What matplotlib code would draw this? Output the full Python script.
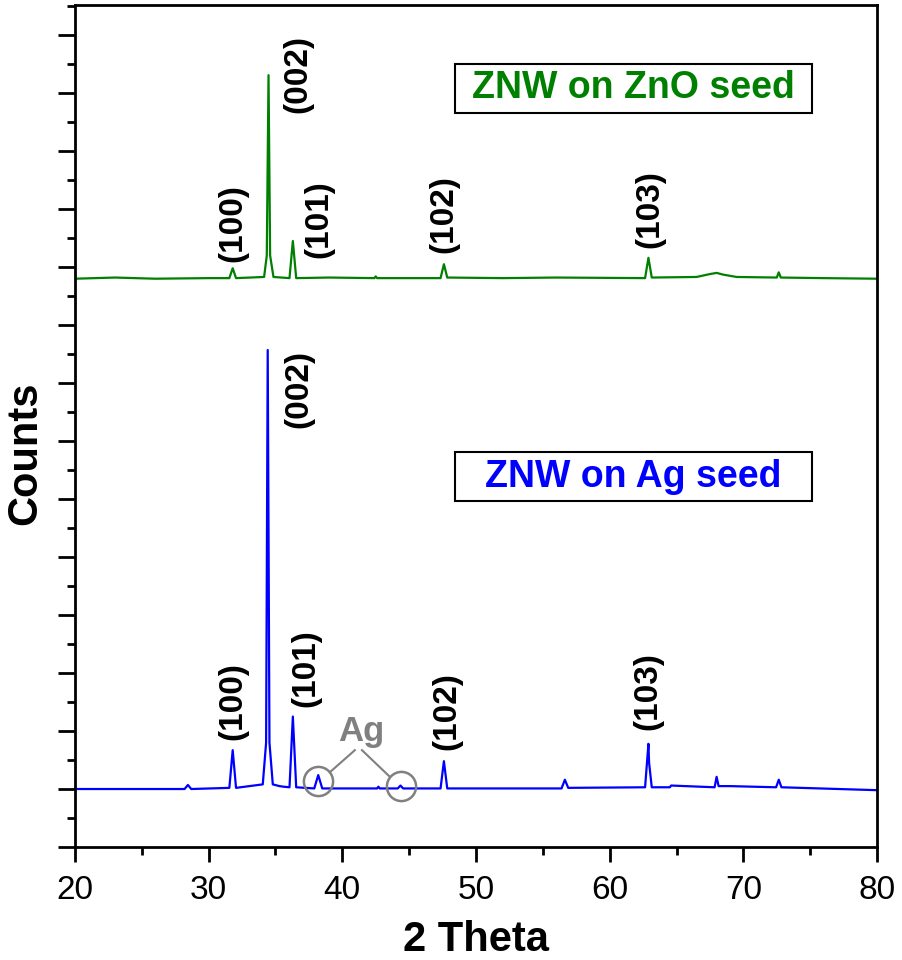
import numpy as np
import matplotlib
matplotlib.use("Agg")
import matplotlib.pyplot as plt
from matplotlib.patches import Rectangle
from matplotlib.ticker import MultipleLocator

plt.rcParams['font.family'] = ['Liberation Sans', 'DejaVu Sans']

# XRD traces (y in units of one major tick)
green_x = [20, 23, 26, 30, 31.55, 31.8, 32.05, 34.15, 34.35, 34.48, 34.6, 34.85,
           36.05, 36.3, 36.55, 39.0, 42.4, 42.5, 42.6, 47.35, 47.6, 47.85, 52, 56,
           62.65, 62.9, 63.15, 66.5, 67.5, 68.0, 68.5, 69.5, 72.5, 72.65, 72.8, 76, 80]
green_y = [9.8, 9.82, 9.8, 9.81, 9.81, 9.98, 9.81, 9.83, 10.2, 13.31, 10.2, 9.83,
           9.81, 10.45, 9.81, 9.82, 9.81, 9.84, 9.81, 9.81, 10.05, 9.82, 9.81, 9.82,
           9.81, 10.16, 9.82, 9.83, 9.88, 9.9, 9.87, 9.83, 9.82, 9.91, 9.82, 9.81, 9.8]

blue_x = [20, 24, 28.2, 28.45, 28.7, 31.55, 31.8, 32.05,
          34.05, 34.3, 34.42, 34.55, 34.8, 35.3, 35.6,
          36.05, 36.3, 36.55, 37.9, 38.2, 38.5, 42.6, 42.7, 42.8,
          44.15, 44.35, 44.55, 47.35, 47.6, 47.85, 56.4, 56.65, 56.9,
          62.65, 62.9, 62.95, 63.15, 64.5, 64.6, 67.85, 68.0, 68.15, 69.0,
          72.45, 72.65, 72.85, 80]
blue_y = [1.0, 1.0, 1.0, 1.07, 1.0, 1.02, 1.67, 1.02,
          1.08, 1.8, 8.57, 1.8, 1.08, 1.05, 1.04,
          1.03, 2.25, 1.03, 1.01, 1.24, 1.01, 1.01, 1.04, 1.01,
          1.01, 1.06, 1.01, 1.01, 1.48, 1.01, 1.01, 1.16, 1.02,
          1.03, 1.78, 1.45, 1.03, 1.03, 1.06, 1.03, 1.21, 1.05, 1.05,
          1.03, 1.16, 1.03, 0.98]

hkl = ["(100)", "(002)", "(101)", "(102)", "(103)"]
green_lab_x = [31.82, 36.68, 38.25, 47.6, 63.0]
green_lab_y = [10.09, 12.66, 10.16, 10.24, 10.33]
blue_lab_x = [31.82, 36.75, 37.28, 47.82, 62.86]
blue_lab_y = [1.84, 7.22, 2.41, 1.67, 2.02]

ag_x = [38.17, 44.38]
ag_y = [1.14, 1.05]

GREEN = '#008000'
BLUE = '#0000ff'
GREY = '#808080'

fig = plt.figure(figsize=(9.02, 9.6), dpi=100)
ax = fig.add_axes([0.0831, 0.1177, 0.8892, 0.8771])

ax.plot(green_x, green_y, color=GREEN, lw=1.6)
ax.plot(blue_x, blue_y, color=BLUE, lw=1.6)

for t, x, y in zip(hkl, green_lab_x, green_lab_y):
    ax.text(x, y, t, rotation=90, ha='center', va='bottom', fontsize=24, fontweight='bold')
for t, x, y in zip(hkl, blue_lab_x, blue_lab_y):
    ax.text(x, y, t, rotation=90, ha='center', va='bottom', fontsize=24, fontweight='bold')

# Ag markers
ax.plot(ag_x, ag_y, 'o', ms=21, mfc='none', mec=GREY, mew=1.8)
ax.plot([40.94, 39.07], [1.67, 1.29], color=GREY, lw=1.5)
ax.plot([41.47, 43.56], [1.67, 1.21], color=GREY, lw=1.5)
ax.text(41.39, 2.0, "Ag", color=GREY, fontsize=25, fontweight='bold', ha='center', va='center')

# label boxes
ax.add_patch(Rectangle((0.4738, 0.8717), 0.4452, 0.0583, transform=ax.transAxes,
                       fc='white', ec='black', lw=1.5, zorder=3))
ax.text(0.6958, 0.9014, "ZNW on ZnO seed", transform=ax.transAxes, color=GREEN,
        fontsize=27, fontweight='bold', ha='center', va='center', zorder=4)
ax.add_patch(Rectangle((0.4738, 0.411), 0.4452, 0.058, transform=ax.transAxes,
                       fc='white', ec='black', lw=1.5, zorder=3))
ax.text(0.6958, 0.4394, "ZNW on Ag seed", transform=ax.transAxes, color=BLUE,
        fontsize=27, fontweight='bold', ha='center', va='center', zorder=4)

ax.set_xlim(20, 80)
ax.set_ylim(0, 14.52)
ax.xaxis.set_major_locator(MultipleLocator(10))
ax.xaxis.set_minor_locator(MultipleLocator(5))
ax.yaxis.set_major_locator(MultipleLocator(1))
ax.yaxis.set_minor_locator(MultipleLocator(0.5))
ax.tick_params(which='major', direction='out', width=2, labelsize=24)
ax.tick_params(axis='y', which='major', length=12, labelleft=False)
ax.tick_params(axis='y', which='minor', length=6, width=2)
ax.tick_params(axis='x', which='major', length=11, pad=9)
ax.tick_params(axis='x', which='minor', length=6, width=2)
for s in ax.spines.values():
    s.set_linewidth(2)

ax.set_xlabel("2 Theta", fontsize=30, fontweight='bold', labelpad=10)
ax.set_ylabel("Counts", fontsize=30, fontweight='bold')
ax.yaxis.set_label_coords(-0.037, 0.468)

fig.savefig("out.png", dpi=100)
